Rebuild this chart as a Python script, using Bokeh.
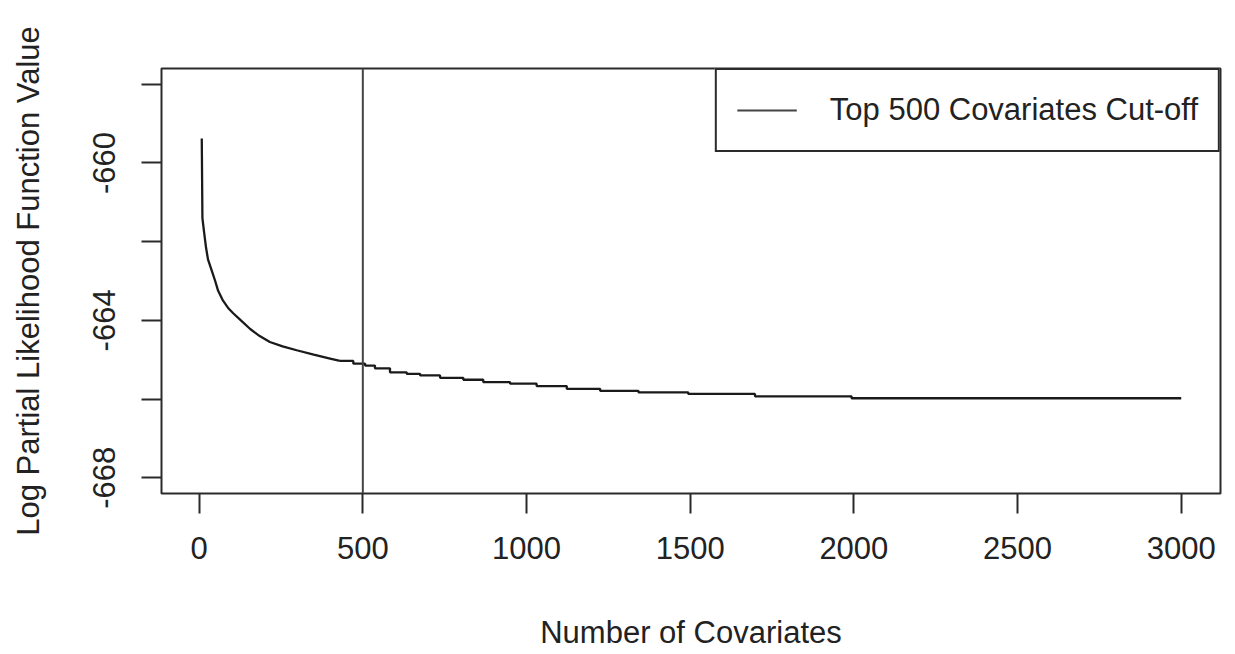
import math
from bokeh.plotting import figure
from bokeh.models import Range1d, FixedTicker, Legend, LegendItem
from bokeh.embed import file_html
from bokeh.resources import INLINE

# ---- data ----
covariates = [8, 10, 15, 21, 27, 39, 49, 58, 73, 90, 104, 125, 156, 185, 216, 255,
              298, 350, 400, 430, 471, 507, 537, 583, 634, 675, 736, 807, 868, 950,
              1031, 1123, 1225, 1342, 1494, 1698, 1993, 3000]
loglik = [-659.38, -661.40, -661.75, -662.15, -662.45, -662.75, -663.00, -663.25,
          -663.50, -663.70, -663.82, -663.98, -664.22, -664.40, -664.55, -664.66,
          -664.76, -664.87, -664.97, -665.03, -665.10, -665.15, -665.22, -665.32,
          -665.36, -665.40, -665.46, -665.51, -665.57, -665.61, -665.67, -665.74,
          -665.79, -665.83, -665.87, -665.93, -665.98, -665.98]
cutoff = 500
x_ticks = [0, 500, 1000, 1500, 2000, 2500, 3000]
y_ticks = [-668, -666, -664, -662, -660, -658]
y_labelled = [-668, -664, -660]
x_lim = (-115, 3120)
y_lim = (-668.4, -657.6)

FONT = "Liberation Sans"
TXT = "#222222"
FS = "31px"

p = figure(width=1235, height=654, output_backend="svg", toolbar_location=None,
           x_range=Range1d(*x_lim), y_range=Range1d(*y_lim),
           min_border_left=161, min_border_right=15, min_border_top=68,
           min_border_bottom=161)
p.grid.visible = False
p.outline_line_color = "#2b2b2b"
p.outline_line_width = 2
p.background_fill_color = "white"
p.border_fill_color = "white"

# curve: smooth early part, stepped later part
k = covariates.index(430)
p.line(covariates[:k + 1], loglik[:k + 1], line_color="#1a1a1a", line_width=2.3)
p.step(covariates[k:], loglik[k:], mode="after", line_color="#1a1a1a", line_width=2.3)

# cut-off line
vr = p.line([cutoff, cutoff], [y_lim[0], y_lim[1]], line_color="#444444", line_width=2)

# axes
for ax in (p.xaxis[0], p.yaxis[0]):
    ax.axis_line_color = None
    ax.major_tick_line_color = "#2b2b2b"
    ax.major_tick_line_width = 2
    ax.major_tick_out = 20
    ax.major_tick_in = 0
    ax.minor_tick_line_color = None
    ax.major_label_text_font = FONT
    ax.major_label_text_font_size = FS
    ax.major_label_text_color = TXT
    ax.axis_label_text_font = FONT
    ax.axis_label_text_font_size = FS
    ax.axis_label_text_font_style = "normal"
    ax.axis_label_text_color = TXT

p.xaxis.ticker = FixedTicker(ticks=x_ticks)
p.xaxis.major_label_standoff = 23
p.xaxis.axis_label = "Number of Covariates"
p.xaxis.axis_label_standoff = 53

p.yaxis.ticker = FixedTicker(ticks=y_ticks)
p.yaxis.major_label_overrides = {t: (f"{t}" if t in y_labelled else "") for t in y_ticks}
p.yaxis.major_label_orientation = "vertical"
p.yaxis.major_label_standoff = 26
p.yaxis.axis_label = "Log Partial Likelihood Function Value"
p.yaxis.axis_label_standoff = 45

legend = Legend(items=[LegendItem(label="Top 500 Covariates Cut-off", renderers=[vr])],
                location="top_right", margin=0, padding=20, glyph_width=60,
                glyph_height=40, label_height=40, label_standoff=33,
                label_text_font=FONT, label_text_font_size=FS, label_text_color=TXT,
                border_line_color="#2b2b2b", border_line_width=2, border_line_alpha=1.0,
                background_fill_color="white", background_fill_alpha=1.0)
p.add_layout(legend)

open("out.html", "w").write(file_html(p, INLINE))
